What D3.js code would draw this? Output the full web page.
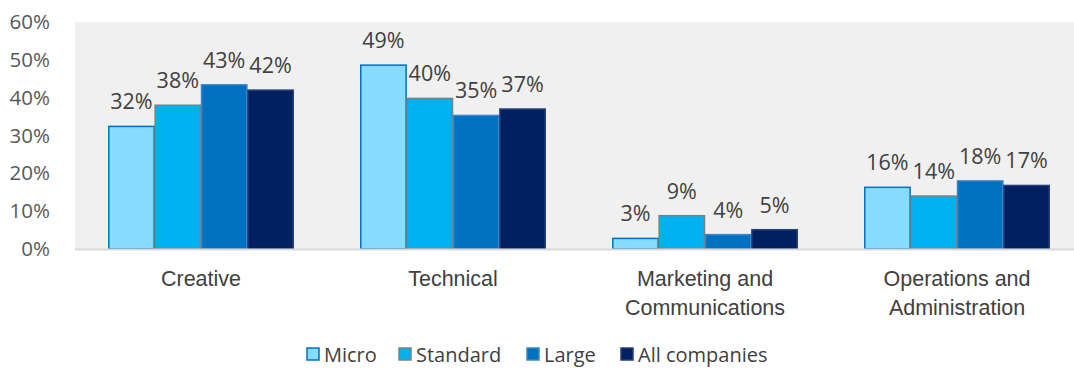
<!DOCTYPE html>
<html lang="en">
    <head>
        <meta charset="UTF-8" />
        <title>Roles by company size</title>
        <style>
            body {
                margin: 0;
                padding: 0;
                background-color: #ffffff;
                font-family: 'Open Sans', sans-serif;
            }
        </style>
    </head>
    <body>
        <div id="chart"></div>
        <script src="https://d3js.org/d3.v7.min.js"></script>
        <script>
            const categories = [['Creative'], ['Technical'], ['Marketing and', 'Communications'], ['Operations and', 'Administration']];
            const seriesNames = ['Micro', 'Standard', 'Large', 'All companies'];
            const micro = [32.4, 48.6, 2.8, 16.3];
            const standard = [38.0, 39.8, 8.8, 14.0];
            const large = [43.4, 35.3, 3.8, 18.0];
            const allCompanies = [42.0, 37.0, 5.1, 16.8];
            const yTicks = [0, 10, 20, 30, 40, 50, 60];

            const seriesValues = [micro, standard, large, allCompanies];
            const fills = ['#87dcfd', '#00b0f0', '#0070c0', '#002060'];
            const strokes = ['#0070c0', '#7f7f7f', '#3b86c8', '#2a3f78'];

            const width = 1074;
            const height = 373;
            const margin = { top: 22, right: 0, bottom: 124, left: 75 };

            const svg = d3.select('#chart').append('svg').attr('width', width).attr('height', height);

            // plot area runs a little past the right edge of the picture
            const x0 = d3
                .scaleBand()
                .domain(d3.range(categories.length))
                .range([margin.left, margin.left + 4 * 252])
                .paddingInner(0.264)
                .paddingOuter(0.132);
            const x1 = d3.scaleBand().domain(d3.range(seriesNames.length)).range([0, x0.bandwidth()]);
            const y = d3
                .scaleLinear()
                .domain([0, 60])
                .range([height - margin.bottom, margin.top]);

            // plot background
            svg.append('rect')
                .attr('x', margin.left)
                .attr('y', margin.top)
                .attr('width', width - margin.left - margin.right)
                .attr('height', y(0) - margin.top)
                .attr('fill', '#f0f0f0');

            // y axis
            const yAxis = svg
                .append('g')
                .attr('transform', `translate(${margin.left - 22}, 0)`)
                .call(d3.axisLeft(y).tickValues(yTicks).tickFormat((d) => d + '%').tickSize(0));
            yAxis.select('.domain').remove();
            yAxis.selectAll('text').attr('fill', '#595959').style('font-size', '20.5px').style('font-family', "'Open Sans', sans-serif");

            // bars
            const groups = svg
                .selectAll('.cat')
                .data(categories)
                .enter()
                .append('g')
                .attr('transform', (d, i) => `translate(${x0(i)}, 0)`);

            groups.each(function (cat, ci) {
                const g = d3.select(this);
                seriesValues.forEach((vals, si) => {
                    const v = vals[ci];
                    g.append('rect')
                        .attr('x', x1(si) + 0.5)
                        .attr('y', y(v))
                        .attr('width', x1.bandwidth() - 1)
                        .attr('height', y(0) - y(v))
                        .attr('fill', fills[si])
                        .attr('stroke', strokes[si])
                        .attr('stroke-width', 1.5);
                    g.append('text')
                        .attr('x', x1(si) + x1.bandwidth() / 2)
                        .attr('y', y(v) - 17)
                        .attr('text-anchor', 'middle')
                        .attr('fill', '#404040')
                        .style('font-size', '21.5px')
                        .text(Math.round(v) + '%');
                });
            });

            // baseline
            svg.append('line')
                .attr('x1', margin.left)
                .attr('x2', width - margin.right)
                .attr('y1', y(0) + 0.5)
                .attr('y2', y(0) + 0.5)
                .attr('stroke', '#d9d9d9')
                .attr('stroke-width', 2);

            // category labels
            const xAxis = svg
                .append('g')
                .attr('transform', `translate(0, ${y(0)})`)
                .call(d3.axisBottom(x0).tickSize(0).tickFormat(''));
            xAxis.select('.domain').remove();
            xAxis.selectAll('.tick').each(function (d) {
                const t = d3.select(this).append('text').attr('text-anchor', 'middle').attr('fill', '#404040').style('font-size', '21.5px');
                categories[d].forEach((line, li) => {
                    t.append('tspan').attr('x', 0).attr('y', 37 + li * 29).text(line);
                });
            });

            // legend
            const legendX = [307, 399, 527, 621];
            const legend = svg.append('g').attr('transform', 'translate(0, 362)');
            seriesNames.forEach((name, i) => {
                legend
                    .append('rect')
                    .attr('x', legendX[i])
                    .attr('y', -14)
                    .attr('width', 12)
                    .attr('height', 12)
                    .attr('fill', fills[i])
                    .attr('stroke', strokes[i])
                    .attr('stroke-width', 1.5);
                legend
                    .append('text')
                    .attr('x', legendX[i] + 17)
                    .attr('y', 0)
                    .attr('fill', '#404040')
                    .style('font-size', '20px')
                    .text(name);
            });
        </script>
    </body>
</html>
